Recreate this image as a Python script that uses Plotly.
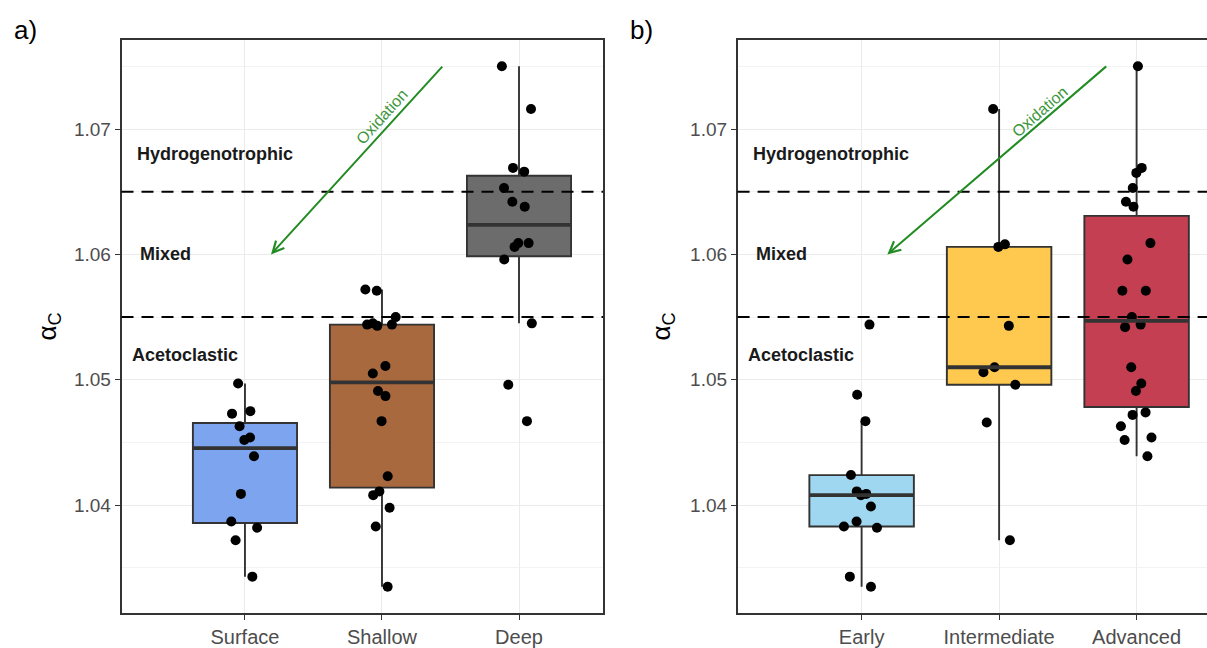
import numpy as np
import plotly.graph_objects as go

FONT = "Liberation Sans, Arial, Helvetica, sans-serif"

# ---------------- data ----------------
depth_groups = ["Surface", "Shallow", "Deep"]
stage_groups = ["Early", "Intermediate", "Advanced"]

surface = [1.0497, 1.0473, 1.0475, 1.0463, 1.0452, 1.0454, 1.0439, 1.0409,
           1.0387, 1.0382, 1.0372, 1.0343]
shallow = [1.0571, 1.0572, 1.0550, 1.0543, 1.0544, 1.0545, 1.0544, 1.0511,
           1.0505, 1.0491, 1.0487, 1.0467, 1.0423, 1.0408, 1.0411, 1.0398,
           1.0383, 1.0335]
deep = [1.0750, 1.0716, 1.0666, 1.0669, 1.0653, 1.0642, 1.0638, 1.0606,
        1.0609, 1.0609, 1.0596, 1.0545, 1.0496, 1.0467]

early = [1.0544, 1.0488, 1.0467, 1.0424, 1.0411, 1.0409, 1.0408, 1.0399,
         1.0387, 1.0383, 1.0382, 1.0343, 1.0335]
intermediate = [1.0716, 1.0606, 1.0608, 1.0543, 1.0510, 1.0506, 1.0496,
                1.0466, 1.0372]
advanced = [1.0750, 1.0669, 1.0665, 1.0653, 1.0642, 1.0638, 1.0609, 1.0596,
            1.0571, 1.0571, 1.0550, 1.0542, 1.0544, 1.0510, 1.0497, 1.0491,
            1.0474, 1.0472, 1.0463, 1.0454, 1.0452, 1.0439]

depth_colors = ["#7DA4EE", "#A8693F", "#6C6C6C"]
stage_colors = ["#A0D7F0", "#FFC84E", "#C43F51"]

thresholds = [1.065, 1.055]
zone_labels = ["Hydrogenotrophic", "Mixed", "Acetoclastic"]
zone_label_y = [1.068, 1.060, 1.052]
zone_label_x = [-0.22, -0.58, -0.44]

y_ticks = [1.04, 1.05, 1.06, 1.07]
y_range = [1.0314, 1.0771]

# arrows (tail -> head) in data coordinates
arrow_a = dict(x0=1.45, y0=1.0751, x1=0.19, y1=1.0600, tx=1.0, ty=1.0710, ang=-47.9)
arrow_b = dict(x0=1.79, y0=1.0751, x1=0.187, y1=1.0600, tx=1.297, ty=1.0714, ang=-40.9)


def box_stats(vals):
    """ggplot2-style (R type 7) box statistics with 1.5*IQR whiskers."""
    v = np.asarray(vals, dtype=float)
    q1, med, q3 = np.percentile(v, [25, 50, 75])
    iqr = q3 - q1
    lo = v[v >= q1 - 1.5 * iqr].min()
    hi = v[v <= q3 + 1.5 * iqr].max()
    return float(q1), float(med), float(q3), float(lo), float(hi)


# ---------------- figure ----------------
fig = go.Figure()

panels = [
    ("x", "y", [surface, shallow, deep], depth_colors),
    ("x2", "y2", [early, intermediate, advanced], stage_colors),
]

BOXW = 0.76
for xa, ya, series, colors in panels:
    for i, (vals, col) in enumerate(zip(series, colors)):
        q1, med, q3, lo, hi = box_stats(vals)
        fig.add_trace(go.Box(
            x=[i], q1=[q1], median=[med], q3=[q3], lowerfence=[lo],
            upperfence=[hi], xaxis=xa, yaxis=ya, fillcolor=col,
            line=dict(color="#333333", width=1.9), whiskerwidth=0, width=BOXW,
            boxpoints=False, hoverinfo="skip", showlegend=False))
    for i, vals in enumerate(series):
        q1, med, q3, lo, hi = box_stats(vals)
        fig.add_trace(go.Scatter(
            x=[i - BOXW / 2, i + BOXW / 2], y=[med, med], mode="lines",
            line=dict(color="#333333", width=3.8), xaxis=xa, yaxis=ya,
            showlegend=False, hoverinfo="skip"))
    for i, vals in enumerate(series):
        fig.add_trace(go.Box(
            y=vals, x0=i, xaxis=xa, yaxis=ya, width=BOXW,
            fillcolor="rgba(0,0,0,0)", line=dict(color="rgba(0,0,0,0)", width=0),
            boxpoints="all", jitter=0.4, pointpos=0,
            marker=dict(color="black", size=10), hoverinfo="skip",
            showlegend=False))

# ---------------- axes ----------------
def xaxis(domain, groups, rng, mirror):
    return dict(
        domain=domain, type="linear", range=rng, tickvals=list(range(len(groups))),
        ticktext=groups, showgrid=True, gridcolor="#EBEBEB", gridwidth=1.2,
        zeroline=False, showline=True, linecolor="#333333", linewidth=1.5,
        mirror=mirror, ticks="outside", ticklen=5, tickcolor="#333333",
        tickwidth=1.2, tickfont=dict(size=20, color="#4D4D4D", family=FONT))

def yaxis(anchor, mirror):
    return dict(
        anchor=anchor, range=y_range, tickvals=y_ticks, tickformat=".2f",
        showgrid=True, gridcolor="#EBEBEB", gridwidth=1.2, zeroline=False,
        showline=True, linecolor="#333333", linewidth=1.5, mirror=mirror,
        ticks="outside", ticklen=5, tickcolor="#333333", tickwidth=1.2,
        tickfont=dict(size=19, color="#4D4D4D", family=FONT),
        minor=dict(dtick=0.005, tick0=1.035, showgrid=True,
                   gridcolor="#F3F3F3", gridwidth=0.8))

fig.update_layout(
    width=1207, height=648,
    margin=dict(l=0, r=0, t=40, b=28),
    paper_bgcolor="white", plot_bgcolor="white",
    font=dict(family=FONT),
    xaxis=xaxis([121.5 / 1207, 603 / 1207], depth_groups, [-0.901, 2.613], True),
    yaxis=yaxis("x", True),
    xaxis2=xaxis([737.6 / 1207, 1.0], stage_groups, [-0.902, 2.512], True),
    yaxis2=yaxis("x2", False),
    showlegend=False,
)

# dashed threshold lines
for xr, yr in [("x domain", "y"), ("x2 domain", "y2")]:
    for t in thresholds:
        fig.add_shape(type="line", xref=xr, yref=yr, x0=0, x1=1, y0=t, y1=t,
                      line=dict(color="black", width=2, dash="12px,8px"),
                      layer="above")

annotations = []
for xr, yr, arr in [("x", "y", arrow_a), ("x2", "y2", arrow_b)]:
    for lab, lx, ly in zip(zone_labels, zone_label_x, zone_label_y):
        annotations.append(dict(
            x=lx, y=ly, xref=xr, yref=yr, text="<b>%s</b>" % lab,
            showarrow=False, font=dict(size=18, color="#1A1A1A", family=FONT)))
    annotations.append(dict(
        x=arr["x1"], y=arr["y1"], ax=arr["x0"], ay=arr["y0"], xref=xr, yref=yr,
        axref=xr, ayref=yr, text="", showarrow=True, arrowhead=5,
        arrowsize=1.1, arrowwidth=2, arrowcolor="#228B22"))
    annotations.append(dict(
        x=arr["tx"], y=arr["ty"], xref=xr, yref=yr, text="Oxidation",
        textangle=arr["ang"], showarrow=False,
        font=dict(size=16, color="#3C963C", family=FONT)))

for px, lab in [(25, "a)"), (641, "b)")]:
    annotations.append(dict(
        x=px / 1207, y=(620 - 30) / 580, xref="paper", yref="paper", text=lab,
        showarrow=False, xanchor="center", yanchor="middle",
        font=dict(size=26, color="black", family=FONT)))

for px in [48, 662]:
    annotations.append(dict(
        x=px / 1207, y=0.5, xref="paper", yref="paper", text="α<sub>C</sub>",
        textangle=-90, showarrow=False, xanchor="center", yanchor="middle",
        font=dict(size=26, color="black", family=FONT)))

fig.update_layout(annotations=annotations)

fig.write_html("out.html")
